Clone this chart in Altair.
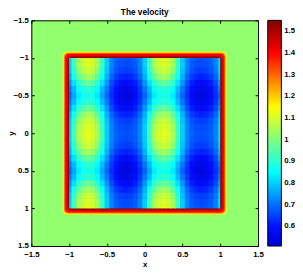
import altair as alt
import pandas as pd

FONT = "Liberation Sans"

title_text = ["The velocity"]

# Axis ticks
tick_values = [-1.5, -1.0, -0.5, 0.0, 0.5, 1.0, 1.5]
legend_values = [0.6, 0.7, 0.8, 0.9, 1.0, 1.1, 1.2, 1.3, 1.4, 1.5]

# colour map (jet-like)
c_domain = [0.51, 0.60, 0.85, 1.15, 1.40, 1.55]
c_range = ["#0000d0", "#0010ff", "#00ffff", "#ffff00", "#ff0000", "#800000"]

# outside the square: uniform value
background_value = 1.02

# red frame around the square: half-widths (outer -> inner) and values
frame_half = [1.088, 1.078, 1.068, 1.055, 1.03, 1.015]
frame_vals = [1.08, 1.17, 1.28, 1.40, 1.47, 1.53]

# interior, one period
# rows: y = -1 + j/12 (j = 0..11), columns: x = -1 + m/16 (m = 0..15)
tile = [
    [0.80, 0.93, 1.05, 1.10, 1.12, 1.10, 1.05, 0.93, 0.80, 0.72, 0.685, 0.67, 0.665, 0.67, 0.685, 0.72],
    [0.80, 0.92, 1.04, 1.09, 1.11, 1.09, 1.04, 0.92, 0.80, 0.72, 0.68, 0.665, 0.66, 0.665, 0.68, 0.72],
    [0.79, 0.90, 1.01, 1.07, 1.09, 1.07, 1.01, 0.90, 0.79, 0.71, 0.67, 0.65, 0.645, 0.65, 0.67, 0.71],
    [0.77, 0.87, 0.96, 1.02, 1.04, 1.02, 0.96, 0.87, 0.77, 0.69, 0.645, 0.625, 0.615, 0.625, 0.645, 0.69],
    [0.74, 0.82, 0.90, 0.95, 0.97, 0.95, 0.90, 0.82, 0.74, 0.66, 0.615, 0.59, 0.58, 0.59, 0.615, 0.66],
    [0.71, 0.78, 0.85, 0.89, 0.90, 0.89, 0.85, 0.78, 0.71, 0.64, 0.59, 0.565, 0.555, 0.565, 0.59, 0.64],
    [0.69, 0.76, 0.83, 0.87, 0.88, 0.87, 0.83, 0.76, 0.69, 0.63, 0.58, 0.555, 0.545, 0.555, 0.58, 0.63],
    [0.71, 0.78, 0.85, 0.89, 0.90, 0.89, 0.85, 0.78, 0.71, 0.64, 0.59, 0.565, 0.555, 0.565, 0.59, 0.64],
    [0.74, 0.82, 0.90, 0.95, 0.97, 0.95, 0.90, 0.82, 0.74, 0.66, 0.615, 0.59, 0.58, 0.59, 0.615, 0.66],
    [0.77, 0.87, 0.96, 1.02, 1.04, 1.02, 0.96, 0.87, 0.77, 0.69, 0.645, 0.625, 0.615, 0.625, 0.645, 0.69],
    [0.79, 0.90, 1.01, 1.07, 1.09, 1.07, 1.01, 0.90, 0.79, 0.71, 0.67, 0.65, 0.645, 0.65, 0.67, 0.71],
    [0.80, 0.92, 1.04, 1.09, 1.11, 1.09, 1.04, 0.92, 0.80, 0.72, 0.68, 0.665, 0.66, 0.665, 0.68, 0.72],
]

# ---- build tables ----
bg_df = pd.DataFrame({"x": [-1.5], "x2": [1.5], "y": [-1.5], "y2": [1.5], "v": [background_value]})
frame_df = pd.DataFrame({
    "x": [-h for h in frame_half], "x2": frame_half,
    "y": [-h for h in frame_half], "y2": frame_half, "v": frame_vals,
})

rows = []
nx, ny = 33, 25
dx, dy = 1 / 16, 1 / 12
ov = 0.008  # slight overlap between neighbouring cells to hide anti-aliasing seams
for k in range(ny):
    yc = -1 + k * dy
    trow = tile[k % 12]
    for i in range(nx):
        xc = -1 + i * dx
        rows.append({
            "x": max(-1.0, xc - dx / 2), "x2": min(1.0, xc + dx / 2 + ov),
            "y": max(-1.0, yc - dy / 2), "y2": min(1.0, yc + dy / 2 + ov),
            "v": trow[i % 16],
        })
cell_df = pd.DataFrame(rows)

W, H = 233, 232

xs = alt.Scale(domain=[-1.5, 1.5], nice=False, zero=False)
ys = alt.Scale(domain=[-1.5, 1.5], nice=False, zero=False, reverse=True)
cs = alt.Scale(domain=c_domain, range=c_range, interpolate="rgb", clamp=True)

legend = alt.Legend(
    title=None, values=legend_values, format=".1~f", orient="right",
    direction="vertical", gradientLength=H, gradientThickness=14, offset=9,
    padding=0, labelFontSize=8, labelFont=FONT, labelFontWeight="bold",
    labelOffset=3, gradientStrokeColor="black", gradientStrokeWidth=1,
    labelOverlap=False, labelColor="black",
)

common_axis = dict(values=tick_values, grid=False, zindex=1, domainColor="black",
                   tickColor="black", domainWidth=1, tickWidth=1, format="~g")

ax_x_main = alt.Axis(orient="bottom", ticks=False, labelPadding=5, title="x",
                     titlePadding=2, labelFlush=False, domain=True, **common_axis)
ax_y_main = alt.Axis(orient="left", ticks=False, labelPadding=3, title="y",
                     titlePadding=-2, labelFlush=False, domain=True, **common_axis)
# inward ticks at the bottom / left edges
ax_x_b = alt.Axis(orient="top", offset=-H, labels=False, domain=False, ticks=True,
                  tickSize=3, title=None, **common_axis)
ax_y_l = alt.Axis(orient="right", offset=-W, labels=False, domain=False, ticks=True,
                  tickSize=3, title=None, **common_axis)
# box + inward ticks at the top / right edges
ax_x_t = alt.Axis(orient="bottom", offset=-H, labels=False, domain=True, ticks=True,
                  tickSize=3, title=None, **common_axis)
ax_y_r = alt.Axis(orient="left", offset=-W, labels=False, domain=True, ticks=True,
                  tickSize=3, title=None, **common_axis)


def layer(df, axx, axy, **mk):
    return alt.Chart(df).mark_rect(**mk).encode(
        x=alt.X("x:Q", scale=xs, axis=axx),
        x2="x2",
        y=alt.Y("y:Q", scale=ys, axis=axy),
        y2="y2",
        color=alt.Color("v:Q", scale=cs, legend=legend),
    )


bg = layer(bg_df, ax_x_main, ax_y_main)
frame = layer(frame_df, ax_x_b, ax_y_l, cornerRadius=4)
cells = layer(cell_df, ax_x_t, ax_y_r)

title = alt.Chart(pd.DataFrame({"t": title_text})).mark_text(
    font=FONT, fontSize=8.5, fontWeight="bold", color="black",
    align="center", baseline="middle",
).encode(text="t:N", x=alt.value(W / 2), y=alt.value(-8.5))

chart = alt.layer(bg, frame, cells, title).resolve_axis(x="independent", y="independent").properties(
    width=W, height=H,
    autosize=alt.AutoSizeParams(type="none"),
    padding={"left": 24, "top": 9, "right": 38, "bottom": 24},
).configure_axis(
    labelFont=FONT, labelFontSize=8, labelFontWeight="bold", labelColor="black",
    titleFont=FONT, titleFontSize=8, titleFontWeight="bold", titleColor="black",
).configure_view(stroke=None)

chart.save("out.html", embed_options={"renderer": "svg", "actions": False})
